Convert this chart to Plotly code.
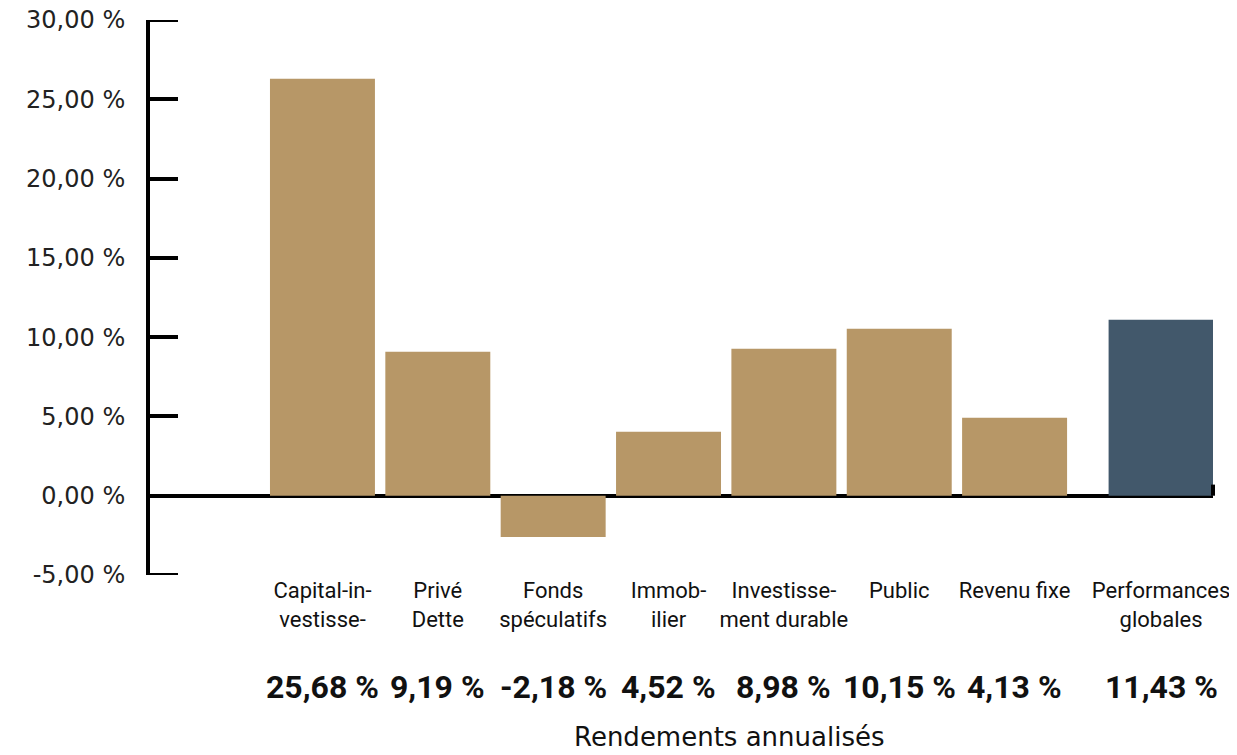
import plotly.graph_objects as go

categories = ["Capital-in-<br>vestisse-", "Privé<br>Dette", "Fonds<br>spéculatifs", "Immob-<br>ilier",
              "Investisse-<br>ment durable", "Public", "Revenu fixe", "Performances<br>globales"]
positions = [0, 1, 2, 3, 4, 5, 6, 7.27]
bar_values = [26.3, 9.08, -2.6, 4.04, 9.27, 10.53, 4.92, 11.1]
value_labels = ["25,68 %", "9,19 %", "-2,18 %", "4,52 %", "8,98 %", "10,15 %", "4,13 %", "11,43 %"]
bar_colors = ["#B79767"] * 7 + ["#42586B"]
y_ticks = [-5, 0, 5, 10, 15, 20, 25, 30]
y_tick_text = ["-5,00 %", "0,00 %", "5,00 %", "10,00 %", "15,00 %", "20,00 %", "25,00 %", "30,00 %"]
axis_title = "Rendements annualisés"

fig = go.Figure()
fig.add_trace(go.Bar(x=positions, y=bar_values, width=0.91, marker=dict(color=bar_colors, line=dict(width=0)),
                     hoverinfo="skip"))

for xp, lab in zip(positions, value_labels):
    fig.add_annotation(x=xp, y=-0.2018, xref="x", yref="paper", text="<b>" + lab + "</b>",
                       showarrow=False, yanchor="middle", xanchor="center",
                       font=dict(family="Roboto", size=32, color="#111111"))

fig.add_annotation(x=0.5447, y=-0.292, xref="paper", yref="paper", text=axis_title, showarrow=False,
                   yanchor="middle", xanchor="center",
                   font=dict(family="DejaVu Sans", size=26, color="#111111"))

# right end tick of the zero line
fig.add_shape(type="line", xref="paper", yref="y", x0=1, x1=1, y0=0, y1=0.7,
              line=dict(color="black", width=4))

# end ticks of the y axis (plotly drops inside ticks at the range ends)
tick_len_frac = 28 / 1063
for yv in (y_ticks[0], y_ticks[-1]):
    fig.add_shape(type="line", xref="paper", yref="y", x0=0, x1=tick_len_frac, y0=yv, y1=yv,
                  line=dict(color="black", width=4))

fig.update_layout(
    width=1229, height=747,
    margin=dict(l=142, r=24, t=12, b=180),
    plot_bgcolor="white", paper_bgcolor="white",
    showlegend=False,
    xaxis=dict(range=[-1.495, 7.72], tickvals=positions, ticktext=categories, showline=False,
               zeroline=False, showgrid=False, ticks="", automargin=False,
               tickfont=dict(family="Roboto", size=22, color="#111111")),
    yaxis=dict(range=[-5, 30], tickvals=y_ticks, ticktext=y_tick_text, showline=True, linewidth=4,
               linecolor="black", ticks="inside", ticklen=28, tickwidth=4, tickcolor="black",
               showgrid=False, zeroline=True, zerolinewidth=4, zerolinecolor="black",
               ticklabelstandoff=16, automargin=False, ticklabeloverflow="allow",
               tickfont=dict(family="DejaVu Sans", size=24, color="#222222")),
)

fig.write_html("out.html")
